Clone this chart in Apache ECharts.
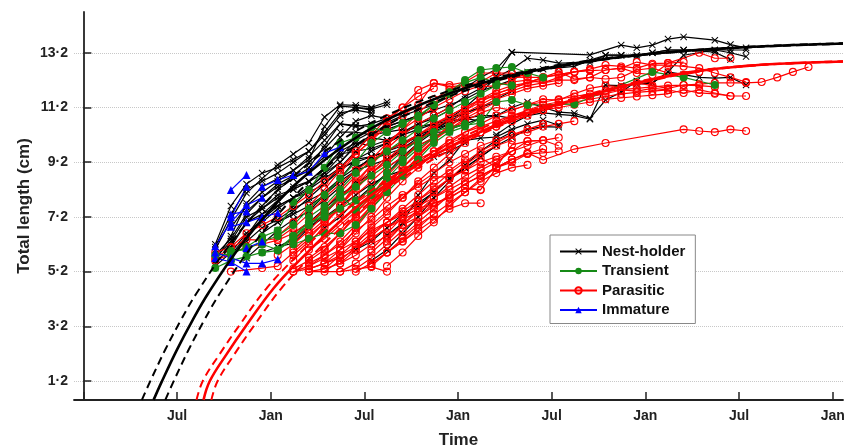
<!DOCTYPE html>
<html><head><meta charset="utf-8">
<script src="https://cdn.jsdelivr.net/npm/echarts@6/dist/echarts.min.js"></script>
<style>html,body{margin:0;padding:0;background:#fff}#c{width:844px;height:448px}</style>
</head><body><div id="c"></div>
<script>
// x axis: months since January of the first year shown
var xTickMonths = [0, 6, 12, 18, 24, 30, 36, 42, 48];
var xLabelMonths = [6, 12, 18, 24, 30, 36, 42, 48];
var xTickLabels = ['Jul', 'Jan', 'Jul', 'Jan', 'Jul', 'Jan', 'Jul', 'Jan'];
var yTickValues = [1.2, 3.2, 5.2, 7.2, 9.2, 11.2, 13.2];

// monthly sampling dates (column 8 .. column 46)
var firstColumn = 8;
var sampleMonths = [8.45, 9.45, 10.45, 11.45, 12.45, 13.45, 14.45, 15.45, 16.45, 17.45,
  18.45, 19.45, 20.45, 21.45, 22.45, 23.45, 24.45, 25.45, 26.45, 27.45,
  28.45, 29.45, 30.45, 31.45, 32.45, 33.45, 34.45, 35.45, 36.45, 37.45,
  38.45, 39.45, 40.45, 41.45, 42.45, 43.45, 44.45, 45.45, 46.45];

// each track: [first sampling column, total lengths (cm) at consecutive columns]
var nestHolder = [
  [8, [6.0,7.1,8.07,8.6,9.1,9.5,9.9,10.85,11.3,11.28,11.2,11.4]],
  [8, [5.6,6.5,7.7,8.3,8.6,8.9,9.3,10.5,11.25,11.2,11.15,11.3]],
  [8, [5.5,6.1,7.0,7.6,8.2,8.6,9.0,9.8,10.6,10.55,10.5,10.65,10.9,11.1,11.3,11.6,11.9,12.3,12.6,13.22,null,null,null,null,13.12,null,13.48,13.38,13.48,13.7,13.78,null,13.66,13.5,13.38]],
  [8, [5.8,6.4,7.3,7.9,8.4,8.7,9.2,9.7,10.3,10.3,10.2,10.5,10.7,10.9,11.1,11.3,11.5,11.8,12.0,12.2,12.5,12.6,12.65,12.7,12.93,13.11,13.11,13.05,13.2,13.3,13.3,null,13.3,13.3,13.3]],
  [20, [10.3,10.6,10.9,11.2,11.6,11.9,12.3,12.6,13.0,12.93,12.82,null,12.84,13.11,13.11,13.11,13.2,13.3,13.3,null,13.22,12.95]],
  [19, [9.0,9.4,9.8,10.1,10.4,10.6,10.8,10.9,11.2,11.4,11.2,11.03,10.99,10.8,11.47,11.76,12.17,12.09,12.5,13.11,null,13.3,13.2,13.06]],
  [19, [6.53,6.97,7.99,8.8,9.28,10.0,10.08,10.12,10.4,10.6,10.74,10.55]],
  [26, [10.2,10.6,10.9,11.0,10.95,10.9,10.77,12.02,12.0,12.05,12.09,12.5,12.4,12.3,12.27,12.3,12.02]],
  [8, [5.7,6.3,7.2,7.5,7.9,8.2,8.5,9.0,9.5,9.6,9.7,9.9,10.2,10.4,10.6,10.8,11.0,11.2,11.5,11.8]],
  [8, [5.4,5.9,6.6,7.1,7.6,7.9,8.2,8.6,9.0,9.2,9.4,9.6,9.9,10.2,10.4,10.6]],
  [9, [6.2,7.0,7.5,8.0,8.2,8.5,9.0,9.6,9.9,9.8,10.0,10.3,10.5,10.6,10.7]],
  [10, [7.0,7.3,7.6,7.9,8.1,8.4,8.9,9.3,9.4,9.6,9.9,10.1,10.3,10.3]],
  [10, [6.3,6.8,7.1,7.5,7.8,8.1,8.6,9.0,9.3,9.5,9.7,10.0]],
  [11, [6.6,7.0,7.3,7.6,8.0,8.5,8.9,9.1,9.3,9.6,10.0,10.4,10.8,11.2,11.7,12.35,13.22]],
  [12, [6.1,6.4,6.8,7.2,7.6,8.0,8.4,8.7,8.9,9.2,9.4,9.6,9.9]],
  [13, [6.6,7.0,7.5,8.0,8.4,8.8,9.3,9.7,10.1,10.4,10.7,11.0,11.2,11.4]],
  [14, [7.4,8.0,8.6,9.3,9.6,9.9,10.2,10.6,10.8,11.1]],
  [17, [6.0,6.3,6.8,7.3,7.7,8.1,8.6,9.0,9.4,9.8]],
  [9, [5.8,6.5,7.3,7.8,8.3,8.5,8.8,9.2,9.8,10.1,10.0,10.2]],
  [8, [6.2,7.6,8.4,8.8,9.0,9.3,9.6,10.2,10.9,11.2,11.1]],
  [10, [5.7,6.2,6.7,7.1,7.4,7.8,8.3,8.9,9.4,9.6,9.8,10.2,10.5,10.7,10.8,10.9,10.9,10.8]],
  [21, [7.6,8.1,8.6,9.0,9.4,9.8,10.1,10.4,10.5,10.48]],
  [11, [5.9,6.1,6.24,6.8,7.3,7.9,8.5]],
  [8, [6.1,7.3,8.2,8.5,8.8,9.2,9.6,10.3,11.0,11.1,11.0]],
  [9, [6.8,7.6,8.1,8.5,8.9,9.4,10.0,10.6,10.5,10.6,10.8]],
  [10, [7.4,7.9,8.3,8.6,8.9,9.4,10.1,10.7,10.9,10.8,11.0,11.2]],
  [11, [7.0,7.5,7.9,8.3,8.7,9.2,9.8,10.2,10.3,10.4]],
  [12, [7.0,7.4,7.9,8.4,9.0,9.6,10.2,10.5,10.7,10.9,11.1]],
  [13, [7.6,8.2,8.8,9.4,10.0,10.3,10.4,10.6]],
  [15, [6.8,7.2,7.8,8.3,8.8,9.4,9.9,10.3,10.6,10.8,10.7]],
  [18, [5.6,6.0,6.6,7.2,7.9,8.5,9.1,9.6,10.0,10.3]]
];
var transient = [
  [8, [5.8,5.84,6.1,6.47,6.7,7.74,8.18,9.0,9.9,10.1,10.48,10.3,10.63,10.85,11.29,11.76,12.2,12.57,12.64,12.68,12.46,12.3]],
  [8, [5.33,5.6,5.75,5.9,5.97,6.4,6.9,7.4,7.9,8.3,8.7,9.1,9.6,10.0,10.3,10.5,10.55,10.63,11.4,11.47,11.29,null,null,11.32,null,null,null,null,12.5,null,12.3,null,12.02]],
  [9, [5.95,6.0,6.3,6.5,6.9,7.5,8.0,8.6,9.2,9.9,10.3,10.6,10.9,11.3,11.7,12.1,12.3,12.1,12.0]],
  [13, [6.5,6.9,7.3,8.0,7.45,8.0,8.6,9.2,9.7,10.1,10.4,10.6]],
  [13, [6.2,6.4,6.6,6.6,6.9,7.5,8.1,8.7,9.3,9.9,10.3,10.5,10.8]],
  [14, [7.2,7.6,8.2,8.8,9.2,9.6,10.0,10.4,10.8,11.1,11.4,11.7,12.0]],
  [11, [6.2,6.0,6.5,7.0,7.2,7.5,7.8,8.2,8.8,9.3,9.8]]
];
var parasitic = [
  [8, [5.7,6.07,6.37,6.35,6.4,6.8,7.3,7.9,8.4,8.9,9.3,9.6,9.9,10.2,10.5]],
  [9, [5.2,null,5.33,5.4,5.9,6.4,7.0,7.6,8.3,8.8,9.2,9.7,10.0,10.4,10.8,11.1,11.4,11.7,11.9,12.1,12.3,12.4,12.5,12.55,12.57,12.64,12.46,12.39,12.82,null,13.2,13.0,13.0]],
  [8, [5.9,6.1,6.6,6.9,7.2,7.6,8.0,8.5,9.0,9.5,10.0,10.5,10.9,11.3,12.09,12.02,12.13,12.46,12.46,12.31,12.3,12.3,12.5,12.24,12.3,12.57,12.64,12.86,12.75,12.75,12.7,12.64,12.46,12.3,12.13]],
  [13, [5.2,5.3,5.5,5.7,6.0,6.4,6.8,7.2,7.5,7.7,7.92,8.24,8.2,8.98,9.3,9.54,9.28,null,9.68,null,9.9,null,null,null,null,10.4,10.34,10.3,10.4,10.34]],
  [14, [5.3,5.5,5.8,6.1,6.4,6.8,7.1,7.4,7.7,7.88,8.24,8.18]],
  [14, [5.2,5.3,5.5,5.8,6.2,6.5,6.9,7.2,7.7]],
  [14, [5.4,5.8,6.2,6.7,7.1,7.6,8.0,8.3,8.66,8.66,8.9,9.35,9.02,9.83,9.97,10.0]],
  [13, [5.6,6.2,6.9,7.6,8.4,9.1,9.8,10.4,11.0,11.5,11.84,12.09,11.95,12.0,12.13,12.2,12.1,12.3,12.5,12.6,12.75,12.7,12.64,12.8,12.82,12.86]],
  [13, [5.3,5.6,6.0,6.6,7.2,7.7,8.3,8.8,9.2,9.6,10.0,10.3,10.5,10.7,10.9,11.0,11.1,11.2,11.3,11.4,11.5,11.55,11.6,11.65,11.7,11.84,11.73,11.7,11.62,11.62]],
  [15, [5.5,6.0,6.6,7.2,7.9,8.5,9.0,9.5,9.9,10.3,10.6,10.9,11.1,11.3,11.4,11.5,11.6,11.7,11.8,11.85,11.9,11.95,12.0,12.02,12.05,12.1,12.1,12.1,12.13,12.3,12.5,12.68]],
  [16, [8.8,9.5,10.0,10.7,11.2,11.84,12.09,11.95,12.02,12.13,12.46,12.46,12.31]],
  [14, [5.2,null,5.2,null,5.37,5.2]],
  [13, [6.0,6.5,7.0,7.5,8.0,8.5,9.0,9.4,9.8,10.1,10.4,10.7,11.0,11.2,11.1,11.3,11.5,11.47,11.7,11.9,12.0,11.95,12.1,12.0,11.9,12.02,12.0,11.95]],
  [14, [6.0,6.4,6.9,7.4,7.9,8.3,8.7,9.1,9.5,9.7,10.0,10.3,10.5,10.8,11.0,11.2,11.3,11.5,11.6,11.7,11.84,11.8,11.9,11.84,11.73,11.84,11.73,11.62]],
  [15, [5.3,5.8,6.3,6.9,7.4,7.9,8.4,8.8,9.2,9.5,9.8,10.0,10.2,10.3,10.5,10.6,10.7]],
  [16, [5.5,6.0,6.5,7.0,7.4,7.8,8.2,8.6,8.9,9.2,9.4,9.6,9.8,10.0,10.1]],
  [17, [5.3,5.7,6.2,6.7,7.2,7.6,8.0,8.4,8.7,9.0,9.3,9.5,9.7]],
  [18, [5.4,5.9,6.4,6.9,7.3,7.7,8.1,8.5,8.8,9.0,9.1]],
  [13, [5.8,6.3,6.8,7.3,7.7,8.1,8.5,8.9,9.3,9.6,9.9,10.1,10.3,10.5,10.7,10.9,11.1,11.3,11.4,11.5,11.6,11.7,11.75,11.8,11.84]],
  [14, [6.6,7.1,7.6,8.2,8.8,9.3,9.8,10.2,10.6,10.9,11.2,11.5,11.7,11.9,12.1,12.3,12.4,12.5,12.57]],
  [16, [6.0,6.8,7.5,8.2,8.8,9.4,10.0,10.5,11.0,11.3,11.6,11.8,12.0,12.1,12.2,12.2,12.3,12.24,12.3,12.57,12.64,12.46,12.39,12.5]],
  [12, [6.5,7.0,7.6,8.2,8.9,9.6,10.2,10.8,11.2,11.6,11.9]],
  [17, [6.2,6.8,7.3,7.9,8.5,9.0,9.5,9.9,10.3,10.6,10.9,11.1,11.3,11.4]],
  [19, [5.4,5.9,6.5,7.0,7.6,8.1,8.6,9.0,9.3]],
  [13, [5.2,5.4,5.7,6.0,6.3,6.7,7.0,7.3,7.6,7.9,8.2,8.5,8.9,9.2,9.6,9.97,10.0,9.8]],
  [17, [7.0,7.6,8.2,8.8,9.4,10.0,10.6,11.1,11.5,11.8,12.0,12.1,12.2]],
  [17, [5.2,5.5,5.9,6.3,6.8,7.3]],
  [18, [5.5,5.9,6.3,6.7,7.1,7.5,7.7,7.7]],
  [20, [6.5,7.0,7.5,8.0,8.4,8.7,9.0,9.2,9.5,9.54,9.6]],
  [8, [5.6,5.85,6.1,6.2,6.35,6.6,7.0,7.4,7.9,8.4,8.9,9.4]],
  [14, [5.7,6.1,6.6,7.2,7.8,8.4,9.0,9.5,10.0,10.4,10.8,11.1,11.4]],
  [15, [5.2,5.6,6.1,6.6,7.0,7.5,8.0,8.5,8.9,9.3]],
  [16, [5.2,5.5,5.9,6.4,6.9,7.4,7.9,8.3,8.7,9.0,9.3,9.6]],
  [13, [6.3,6.9,7.5,8.1,8.7,9.3,9.9,10.4,10.8,11.2,11.5,11.8,12.0,12.2,12.3,12.4]],
  [15, [6.0,6.6,7.3,8.0,8.7,9.3,9.9,10.5,10.9,11.2,11.5,11.6,11.8]],
  [18, [6.0,6.6,7.2,7.8,8.3,8.8,9.2,9.6,9.9,10.2,10.4,10.6]],
  [19, [6.3,6.9,7.5,8.1,8.6,9.1,9.5,9.8,10.0]],
  [14, [5.5,5.8,6.3,6.9,7.6,8.3,9.0,9.6,10.1,10.5,10.9,11.2,11.5,11.7,11.9,12.0,12.1]],
  [12, [5.8,6.2,6.7,7.3,7.9,8.5,9.1,9.7,10.2,10.6,10.9,11.2]]
];
var immature = [
  [9, [8.18,8.73]],
  [8, [6.13,7.0,7.63,7.9]],
  [8, [5.9,5.7,5.5,5.5,5.65]],
  [11, [8.3,8.55,8.73,8.85,9.53,9.75]],
  [9, [6.84,7.0,7.2,7.34]],
  [9, [7.3,7.4]],
  [8, [5.7,5.55,5.2]],
  [10, [6.06,6.3]],
  [9, [7.2,8.3]]
];

// fitted growth curves [month, total length]
var nestFit = [[4.5,0.51],[5,1.15],[6,2.35],[7,3.43],[8,4.41],[10,6.09],[12,7.47],[14,8.6],[17,9.92],[20,10.9],[24,11.82],[28,12.44],[33,12.94],[38,13.24],[43,13.42],[48.66,13.54]];
var nestFitUpper = [[3.75,0.51],[4.25,1.15],[5.25,2.35],[6.25,3.43],[7.25,4.41],[9.25,6.09],[11.25,7.47],[13.3,8.6],[16.3,9.92],[19.4,10.9],[23.5,11.82],[27.6,12.44],[32.7,12.94],[37.8,13.24],[43,13.43],[48.66,13.55]];
var nestFitLower = [[5.25,0.51],[5.75,1.15],[6.75,2.35],[7.75,3.43],[8.75,4.41],[10.75,6.09],[12.75,7.47],[14.7,8.6],[17.7,9.92],[20.6,10.9],[24.5,11.82],[28.4,12.44],[33.3,12.94],[38.2,13.24],[43,13.41],[48.66,13.53]];
var parFit = [[7.7,0.51],[8.1,1.2],[9.2,2.2],[10.4,3.2],[12.2,4.6],[14,5.7],[16,6.8],[18,7.8],[20,8.6],[22,9.3],[25,10.2],[28,10.9],[31.2,11.45],[35.5,12.1],[39,12.5],[42.5,12.72],[45.5,12.82],[48.66,12.88]];
var parFitUpper = [[7.25,0.51],[7.65,1.2],[8.75,2.2],[9.95,3.2],[11.75,4.6],[13.55,5.7],[15.55,6.8],[17.55,7.8],[19.6,8.6],[21.6,9.3],[24.6,10.2],[27.6,10.9],[30.9,11.45],[35.2,12.1],[38.8,12.5],[42.3,12.72],[45.4,12.82],[48.66,12.89]];
var parFitLower = [[8.2,0.51],[8.6,1.2],[9.7,2.2],[10.9,3.2],[12.7,4.6],[14.5,5.7],[16.5,6.8],[18.5,7.8],[20.4,8.6],[22.4,9.3],[25.4,10.2],[28.4,10.9],[31.5,11.45],[35.8,12.1],[39.2,12.5],[42.7,12.72],[45.6,12.82],[48.66,12.87]];

var FONT = 'Liberation Sans, Arial, sans-serif';
var X_SYMBOL = 'path://M1,0 L5,4 L9,0 L10,1 L6,5 L10,9 L9,10 L5,6 L1,10 L0,9 L4,5 L0,1 Z';

function trackSeries(tracks, name, color, symbol, size, itemStyle) {
  return tracks.map(function (t) {
    var start = t[0], vals = t[1], data = [];
    vals.forEach(function (v, i) {
      if (v !== null) data.push([sampleMonths[start - firstColumn + i], v]);
    });
    return {
      type: 'line', name: name, data: data,
      symbol: symbol, symbolSize: size, showSymbol: true,
      lineStyle: { color: color, width: 1.2 },
      itemStyle: itemStyle,
      emphasis: { disabled: true }, silent: true, animation: false
    };
  });
}
function curveSeries(name, data, color, dashed) {
  return {
    type: 'line', name: name, data: data, smooth: 0.4, showSymbol: false, symbol: 'none',
    lineStyle: { color: color, width: dashed ? 2 : 2.6, type: dashed ? [8, 5] : 'solid' },
    emphasis: { disabled: true }, silent: true, animation: false, z: 5
  };
}

var series = []
  .concat(trackSeries(nestHolder, 'Nest-holder', '#000', X_SYMBOL, 7, { color: '#000' }))
  .concat(trackSeries(parasitic, 'Parasitic', '#ff0000', 'circle', 7, { color: 'rgba(255,255,255,0)', borderColor: '#ff0000', borderWidth: 1.1 }))
  .concat(trackSeries(transient, 'Transient', '#168a16', 'circle', 8, { color: '#168a16' }))
  .concat(trackSeries(immature, 'Immature', '#0000ff', 'triangle', 8, { color: '#0000ff' }))
  .concat([
    curveSeries('nest fit', nestFit, '#000', false),
    curveSeries('nest fit upper', nestFitUpper, '#000', true),
    curveSeries('nest fit lower', nestFitLower, '#000', true),
    curveSeries('parasitic fit', parFit, '#ff0000', false),
    curveSeries('parasitic fit upper', parFitUpper, '#ff0000', true),
    curveSeries('parasitic fit lower', parFitLower, '#ff0000', true)
  ]);

var chart = echarts.init(document.getElementById('c'), null, { renderer: 'canvas' });
chart.setOption({
  animation: false,
  backgroundColor: '#fff',
  grid: { left: 74, right: 1, top: 12, bottom: 48, containLabel: false, outerBoundsMode: 'none' },
  legend: {
    data: ['Nest-holder', 'Transient', 'Parasitic', 'Immature'],
    orient: 'vertical', left: 550, top: 235,
    itemWidth: 37, itemHeight: 8, itemGap: 4.5,
    padding: [9, 10, 6, 9],
    borderColor: '#888', borderWidth: 1, backgroundColor: '#fff',
    selectedMode: false,
    textStyle: { fontFamily: FONT, fontWeight: 'bold', fontSize: 15, color: '#111' }
  },
  xAxis: {
    type: 'value', min: -0.6, max: 48.66,
    name: 'Time', nameLocation: 'middle', nameGap: 32, nameMoveOverlap: false,
    nameTextStyle: { fontFamily: FONT, fontWeight: 'bold', fontSize: 17, color: '#222' },
    axisLine: { lineStyle: { color: '#222', width: 1.8 } },
    axisTick: { inside: true, length: 8, customValues: xTickMonths, lineStyle: { color: '#222', width: 1.5 } },
    axisLabel: {
      customValues: xLabelMonths, margin: 9,
      formatter: function (v) { var i = xLabelMonths.indexOf(Math.round(v)); return i >= 0 ? xTickLabels[i] : ''; },
      fontFamily: FONT, fontWeight: 'bold', fontSize: 14, color: '#222'
    },
    splitLine: { show: false }
  },
  yAxis: {
    type: 'value', min: 0.506, max: 14.69,
    name: 'Total length (cm)', nameLocation: 'middle', nameGap: 41, nameMoveOverlap: false,
    nameTextStyle: { fontFamily: FONT, fontWeight: 'bold', fontSize: 17, color: '#222' },
    axisLine: { show: true, lineStyle: { color: '#222', width: 1.8 } },
    axisTick: { show: true, inside: true, length: 8, customValues: yTickValues, lineStyle: { color: '#222', width: 1.5 } },
    axisLabel: {
      customValues: yTickValues, margin: 6,
      formatter: function (v) { return v.toFixed(1).replace('.', '\u00B7'); },
      fontFamily: FONT, fontWeight: 'bold', fontSize: 14, color: '#222'
    },
    splitLine: { show: true, lineStyle: { color: '#c8c8c8', type: 'dotted', width: 1 } }
  },
  series: series
});
</script>
</body></html>
